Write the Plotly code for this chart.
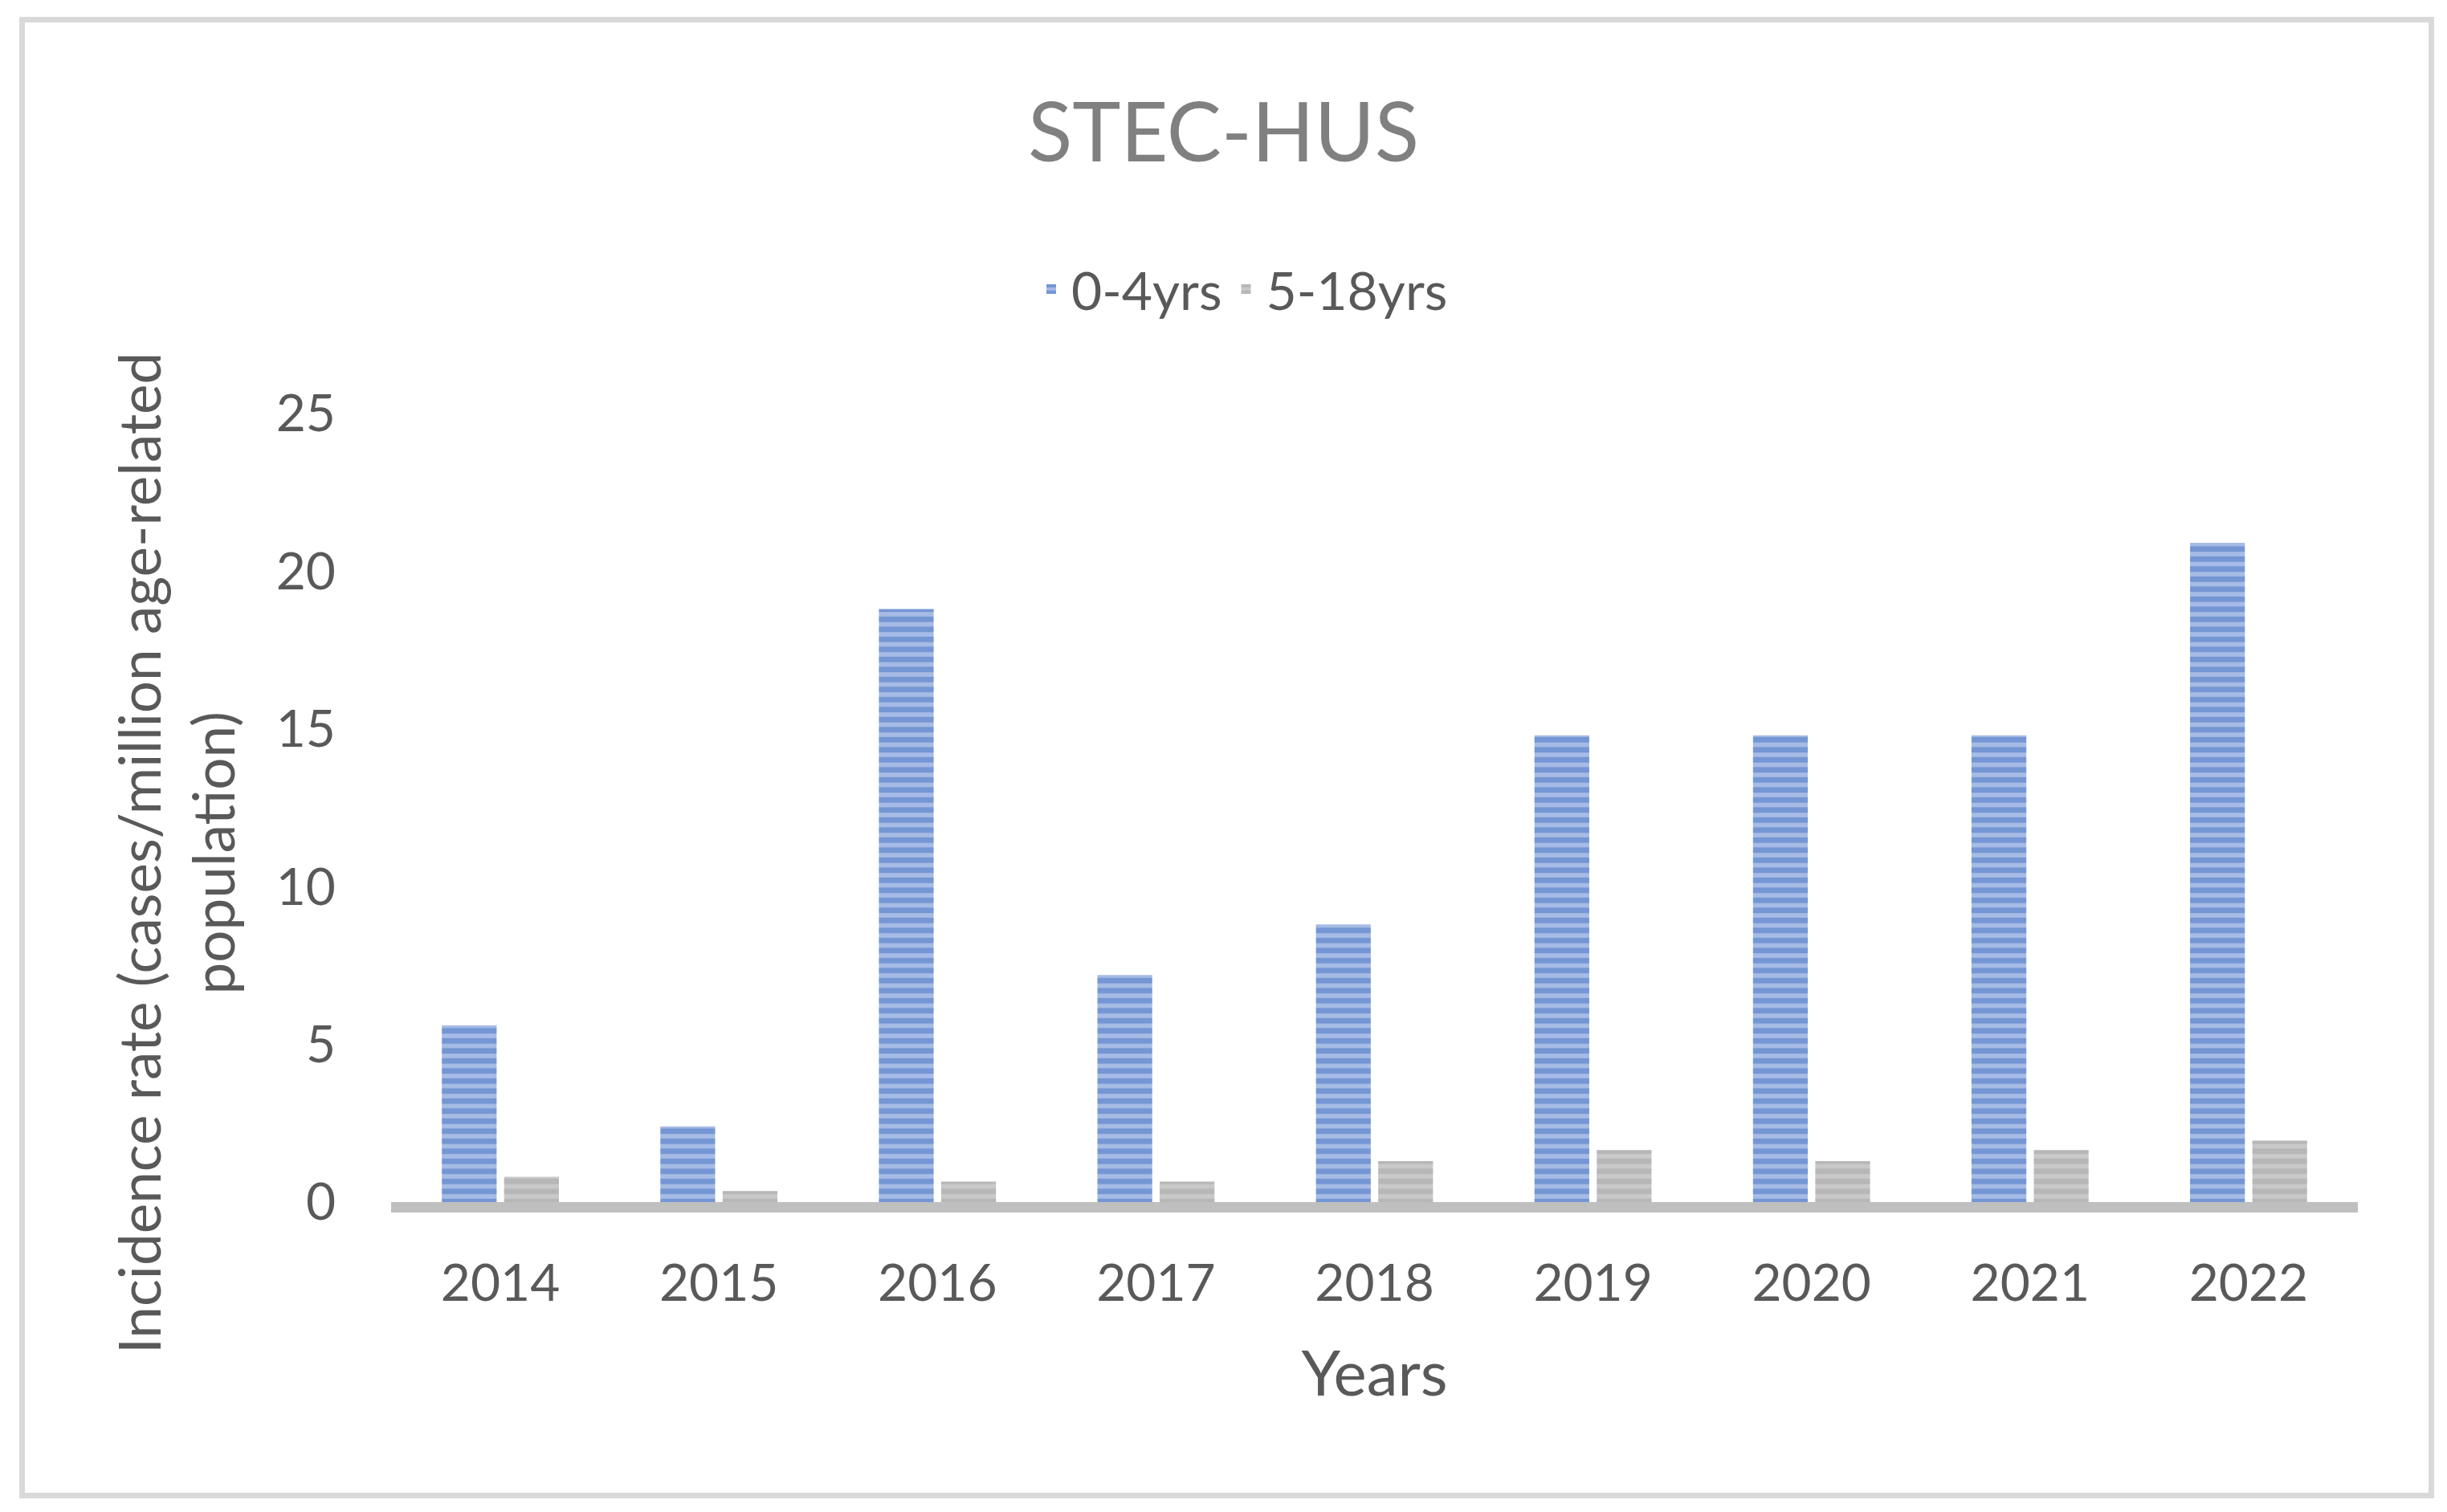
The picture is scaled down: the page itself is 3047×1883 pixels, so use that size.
import plotly.graph_objects as go

# ---- data ----
years = ["2014", "2015", "2016", "2017", "2018", "2019", "2020", "2021", "2022"]
rate_0_4 = [5.6, 2.4, 18.8, 7.2, 8.8, 14.8, 14.8, 14.8, 20.9]
rate_5_18 = [0.8, 0.35, 0.65, 0.65, 1.3, 1.65, 1.3, 1.65, 1.95]
series_names = ["0-4yrs", "5-18yrs"]
y_ticks = [0, 5, 10, 15, 20, 25]

# ---- layout geometry (pixels) ----
W, H = 3047, 1883
L, R, T, B = 487, 2936, 515, 1497
PW, PH = R - L, B - T


def px_x(x):
    return (x - L) / PW


def px_y(y):
    return (B - y) / PH


FONT = "Lato, 'Open Sans', sans-serif"
TXT = "#595959"

fig = go.Figure()
fig.add_trace(go.Bar(
    x=years, y=rate_0_4, name=series_names[0],
    marker=dict(color="#4472C4", line=dict(width=0),
                pattern=dict(shape="-", fgcolor="#4472C4", bgcolor="#a6bbe5",
                             size=12.5, solidity=0.55, fillmode="overlay")),
))
fig.add_trace(go.Bar(
    x=years, y=rate_5_18, name=series_names[1],
    marker=dict(color="#A5A5A5", line=dict(width=0),
                pattern=dict(shape="-", fgcolor="#A5A5A5", bgcolor="#c9c9c9",
                             size=12.5, solidity=0.55, fillmode="overlay")),
))

fig.update_layout(
    width=W, height=H,
    margin=dict(l=L, r=W - R, t=T, b=H - B, autoexpand=False),
    paper_bgcolor="white", plot_bgcolor="white",
    barmode="group", bargap=0.43, bargroupgap=0.12,
    font=dict(family=FONT, color=TXT, size=64),
    title=dict(text="STEC-HUS", x=0.5, xanchor="center", xref="container",
               y=1 - 165 / H, yanchor="middle", yref="container",
               font=dict(family=FONT, size=102, color="#808080")),
    legend=dict(orientation="h", x=px_x(1546), xanchor="center",
                y=px_y(360), yanchor="middle",
                font=dict(family=FONT, size=66, color=TXT),
                itemwidth=40, bgcolor="rgba(0,0,0,0)"),
    showlegend=True,
    xaxis=dict(showgrid=False, showline=False, zeroline=False, ticks="",
               tickfont=dict(family=FONT, size=64, color=TXT),
               ticklabelstandoff=58,
               title=dict(text="Years", standoff=50,
                          font=dict(family=FONT, size=78, color=TXT))),
    yaxis=dict(range=[0, 25], tickvals=y_ticks, showgrid=False, showline=False,
               zeroline=False, ticks="",
               tickfont=dict(family=FONT, size=64, color=TXT),
               ticklabelstandoff=68),
)

# y-axis title (two lines, rotated)
fig.add_annotation(
    text="Incidence rate (cases/million age-related<br>population)",
    textangle=-90, xref="paper", yref="paper",
    x=px_x(218), y=px_y(1063), xanchor="center", yanchor="middle",
    showarrow=False, font=dict(family=FONT, size=71, color=TXT),
)

# horizontal axis line
fig.add_shape(type="rect", xref="paper", yref="paper",
              x0=0, x1=1, y0=px_y(1497), y1=px_y(1510),
              fillcolor="#bfbfbf", line=dict(width=0), layer="below")

# outer chart border
fig.add_shape(type="rect", xref="paper", yref="paper",
              x0=px_x(27.5), x1=px_x(3027.5), y0=px_y(1862.5), y1=px_y(24.5),
              line=dict(color="#d9d9d9", width=7), fillcolor="rgba(0,0,0,0)")

fig.write_html("out.html", config={"displayModeBar": False},
               post_script="document.body.style.margin='0';")
